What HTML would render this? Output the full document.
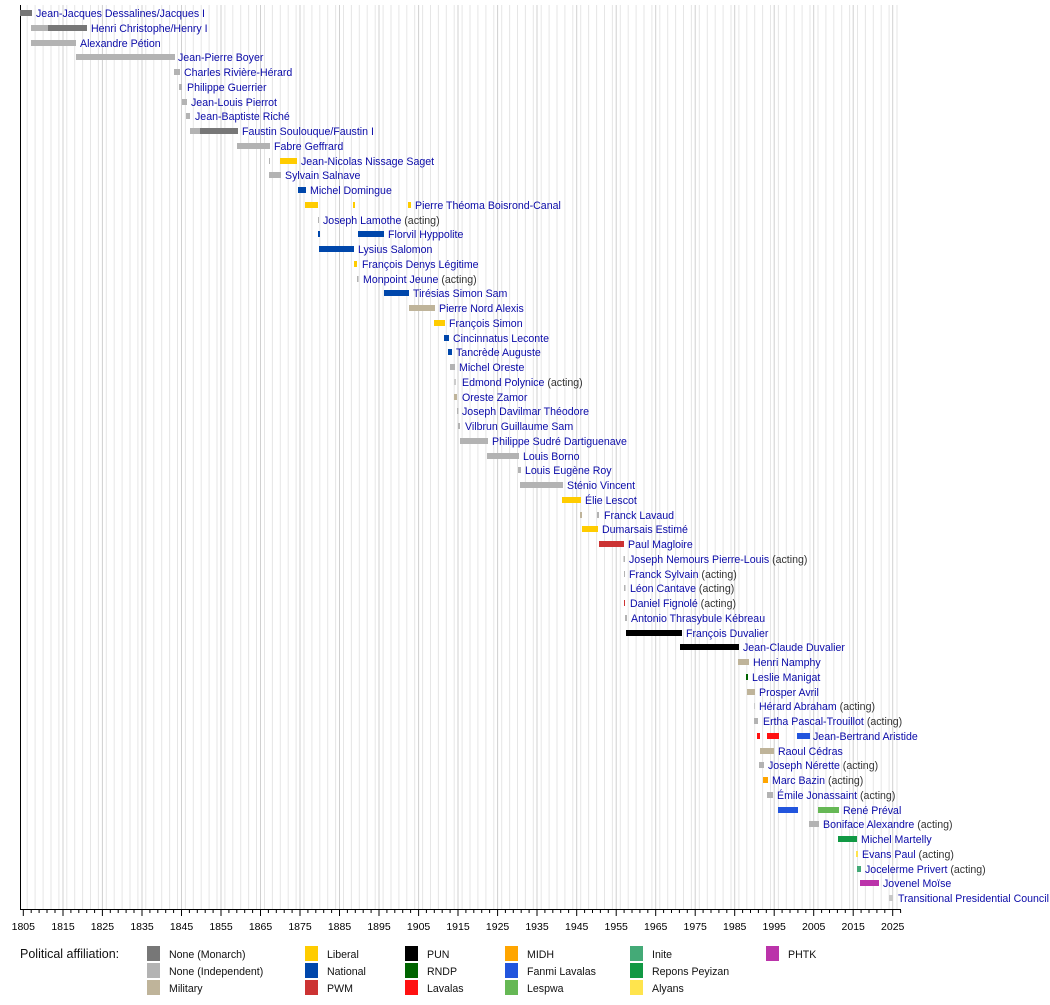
<!DOCTYPE html>
<html><head><meta charset="utf-8"><style>
body{margin:0;background:#fff;}
svg text{font-family:"Liberation Sans",Arial,sans-serif;}
.l{font-size:10.6px;fill:#0a0aa8;}
.a{fill:#333;}
.g{font-size:10.6px;fill:#111;}
</style></head><body>
<svg width="1050" height="1000" xmlns="http://www.w3.org/2000/svg">
<g id="grid" stroke="#e6e6e6" stroke-width="1">
<line x1="27.2" y1="5" x2="27.2" y2="910"/><line x1="35.1" y1="5" x2="35.1" y2="910"/><line x1="43.1" y1="5" x2="43.1" y2="910"/><line x1="51" y1="5" x2="51" y2="910"/><line x1="58.9" y1="5" x2="58.9" y2="910"/>
<line x1="66.8" y1="5" x2="66.8" y2="910"/><line x1="74.7" y1="5" x2="74.7" y2="910"/><line x1="82.6" y1="5" x2="82.6" y2="910"/><line x1="90.5" y1="5" x2="90.5" y2="910"/><line x1="98.4" y1="5" x2="98.4" y2="910"/>
<line x1="106.3" y1="5" x2="106.3" y2="910"/><line x1="114.2" y1="5" x2="114.2" y2="910"/><line x1="122.1" y1="5" x2="122.1" y2="910"/><line x1="130" y1="5" x2="130" y2="910"/><line x1="137.9" y1="5" x2="137.9" y2="910"/>
<line x1="145.8" y1="5" x2="145.8" y2="910"/><line x1="153.8" y1="5" x2="153.8" y2="910"/><line x1="161.7" y1="5" x2="161.7" y2="910"/><line x1="169.6" y1="5" x2="169.6" y2="910"/><line x1="177.5" y1="5" x2="177.5" y2="910"/>
<line x1="185.4" y1="5" x2="185.4" y2="910"/><line x1="193.3" y1="5" x2="193.3" y2="910"/><line x1="201.2" y1="5" x2="201.2" y2="910"/><line x1="209.1" y1="5" x2="209.1" y2="910"/><line x1="217" y1="5" x2="217" y2="910"/>
<line x1="224.9" y1="5" x2="224.9" y2="910"/><line x1="232.8" y1="5" x2="232.8" y2="910"/><line x1="240.7" y1="5" x2="240.7" y2="910"/><line x1="248.6" y1="5" x2="248.6" y2="910"/><line x1="256.5" y1="5" x2="256.5" y2="910"/>
<line x1="264.5" y1="5" x2="264.5" y2="910"/><line x1="272.4" y1="5" x2="272.4" y2="910"/><line x1="280.3" y1="5" x2="280.3" y2="910"/><line x1="288.2" y1="5" x2="288.2" y2="910"/><line x1="296.1" y1="5" x2="296.1" y2="910"/>
<line x1="304" y1="5" x2="304" y2="910"/><line x1="311.9" y1="5" x2="311.9" y2="910"/><line x1="319.8" y1="5" x2="319.8" y2="910"/><line x1="327.7" y1="5" x2="327.7" y2="910"/><line x1="335.6" y1="5" x2="335.6" y2="910"/>
<line x1="343.5" y1="5" x2="343.5" y2="910"/><line x1="351.4" y1="5" x2="351.4" y2="910"/><line x1="359.3" y1="5" x2="359.3" y2="910"/><line x1="367.2" y1="5" x2="367.2" y2="910"/><line x1="375.2" y1="5" x2="375.2" y2="910"/>
<line x1="383.1" y1="5" x2="383.1" y2="910"/><line x1="391" y1="5" x2="391" y2="910"/><line x1="398.9" y1="5" x2="398.9" y2="910"/><line x1="406.8" y1="5" x2="406.8" y2="910"/><line x1="414.7" y1="5" x2="414.7" y2="910"/>
<line x1="422.6" y1="5" x2="422.6" y2="910"/><line x1="430.5" y1="5" x2="430.5" y2="910"/><line x1="438.4" y1="5" x2="438.4" y2="910"/><line x1="446.3" y1="5" x2="446.3" y2="910"/><line x1="454.2" y1="5" x2="454.2" y2="910"/>
<line x1="462.1" y1="5" x2="462.1" y2="910"/><line x1="470" y1="5" x2="470" y2="910"/><line x1="477.9" y1="5" x2="477.9" y2="910"/><line x1="485.9" y1="5" x2="485.9" y2="910"/><line x1="493.8" y1="5" x2="493.8" y2="910"/>
<line x1="501.7" y1="5" x2="501.7" y2="910"/><line x1="509.6" y1="5" x2="509.6" y2="910"/><line x1="517.5" y1="5" x2="517.5" y2="910"/><line x1="525.4" y1="5" x2="525.4" y2="910"/><line x1="533.3" y1="5" x2="533.3" y2="910"/>
<line x1="541.2" y1="5" x2="541.2" y2="910"/><line x1="549.1" y1="5" x2="549.1" y2="910"/><line x1="557" y1="5" x2="557" y2="910"/><line x1="564.9" y1="5" x2="564.9" y2="910"/><line x1="572.8" y1="5" x2="572.8" y2="910"/>
<line x1="580.7" y1="5" x2="580.7" y2="910"/><line x1="588.6" y1="5" x2="588.6" y2="910"/><line x1="596.6" y1="5" x2="596.6" y2="910"/><line x1="604.5" y1="5" x2="604.5" y2="910"/><line x1="612.4" y1="5" x2="612.4" y2="910"/>
<line x1="620.3" y1="5" x2="620.3" y2="910"/><line x1="628.2" y1="5" x2="628.2" y2="910"/><line x1="636.1" y1="5" x2="636.1" y2="910"/><line x1="644" y1="5" x2="644" y2="910"/><line x1="651.9" y1="5" x2="651.9" y2="910"/>
<line x1="659.8" y1="5" x2="659.8" y2="910"/><line x1="667.7" y1="5" x2="667.7" y2="910"/><line x1="675.6" y1="5" x2="675.6" y2="910"/><line x1="683.5" y1="5" x2="683.5" y2="910"/><line x1="691.4" y1="5" x2="691.4" y2="910"/>
<line x1="699.3" y1="5" x2="699.3" y2="910"/><line x1="707.3" y1="5" x2="707.3" y2="910"/><line x1="715.2" y1="5" x2="715.2" y2="910"/><line x1="723.1" y1="5" x2="723.1" y2="910"/><line x1="731" y1="5" x2="731" y2="910"/>
<line x1="738.9" y1="5" x2="738.9" y2="910"/><line x1="746.8" y1="5" x2="746.8" y2="910"/><line x1="754.7" y1="5" x2="754.7" y2="910"/><line x1="762.6" y1="5" x2="762.6" y2="910"/><line x1="770.5" y1="5" x2="770.5" y2="910"/>
<line x1="778.4" y1="5" x2="778.4" y2="910"/><line x1="786.3" y1="5" x2="786.3" y2="910"/><line x1="794.2" y1="5" x2="794.2" y2="910"/><line x1="802.1" y1="5" x2="802.1" y2="910"/><line x1="810" y1="5" x2="810" y2="910"/>
<line x1="818" y1="5" x2="818" y2="910"/><line x1="825.9" y1="5" x2="825.9" y2="910"/><line x1="833.8" y1="5" x2="833.8" y2="910"/><line x1="841.7" y1="5" x2="841.7" y2="910"/><line x1="849.6" y1="5" x2="849.6" y2="910"/>
<line x1="857.5" y1="5" x2="857.5" y2="910"/><line x1="865.4" y1="5" x2="865.4" y2="910"/><line x1="873.3" y1="5" x2="873.3" y2="910"/><line x1="881.2" y1="5" x2="881.2" y2="910"/><line x1="889.1" y1="5" x2="889.1" y2="910"/><line x1="897" y1="5" x2="897" y2="910"/>
</g>
<g stroke="#d0d0d0" stroke-width="1">
<line x1="63" y1="5" x2="63" y2="910"/><line x1="102.4" y1="5" x2="102.4" y2="910"/><line x1="142" y1="5" x2="142" y2="910"/><line x1="181.5" y1="5" x2="181.5" y2="910"/><line x1="221" y1="5" x2="221" y2="910"/><line x1="260.5" y1="5" x2="260.5" y2="910"/><line x1="300" y1="5" x2="300" y2="910"/><line x1="339.5" y1="5" x2="339.5" y2="910"/><line x1="379" y1="5" x2="379" y2="910"/><line x1="418.6" y1="5" x2="418.6" y2="910"/><line x1="458" y1="5" x2="458" y2="910"/><line x1="497.6" y1="5" x2="497.6" y2="910"/><line x1="537" y1="5" x2="537" y2="910"/><line x1="576.7" y1="5" x2="576.7" y2="910"/><line x1="616.2" y1="5" x2="616.2" y2="910"/><line x1="655.7" y1="5" x2="655.7" y2="910"/><line x1="695.2" y1="5" x2="695.2" y2="910"/><line x1="734.7" y1="5" x2="734.7" y2="910"/><line x1="774.2" y1="5" x2="774.2" y2="910"/><line x1="813.7" y1="5" x2="813.7" y2="910"/><line x1="853.2" y1="5" x2="853.2" y2="910"/><line x1="892.7" y1="5" x2="892.7" y2="910"/>
</g>
<!-- axes -->
<line x1="20.5" y1="5" x2="20.5" y2="910" stroke="#000"/>
<line x1="20.5" y1="909.5" x2="901" y2="909.5" stroke="#000"/>
<g stroke="#000">
<path d="M23.3 910v6M63 910v6M102.4 910v6M142 910v6M181.5 910v6M221 910v6M260.5 910v6M300 910v6M339.5 910v6M379 910v6M418.6 910v6M458 910v6M497.6 910v6M537 910v6M576.7 910v6M616.2 910v6M655.7 910v6M695.2 910v6M734.7 910v6M774.2 910v6M813.7 910v6M853.2 910v6M892.7 910v6"/>
<path d="M31.2 910v3M39.1 910v3M47 910v3M55 910v3M70.9 910v3M78.8 910v3M86.7 910v3M94.6 910v3M110.3 910v3M118.2 910v3M126.1 910v3M134 910v3M149.9 910v3M157.8 910v3M165.7 910v3M173.6 910v3M189.4 910v3M197.3 910v3M205.2 910v3M213.1 910v3M228.9 910v3M236.8 910v3M244.7 910v3M252.6 910v3M268.4 910v3M276.3 910v3M284.2 910v3M292.1 910v3M307.9 910v3M315.8 910v3M323.7 910v3M331.6 910v3M347.4 910v3M355.3 910v3M363.2 910v3M371.1 910v3M386.9 910v3M394.8 910v3M402.7 910v3M410.6 910v3M426.4 910v3M434.3 910v3M442.2 910v3M450.1 910v3M465.9 910v3M473.8 910v3M481.7 910v3M489.6 910v3M505.4 910v3M513.3 910v3M521.2 910v3M529.1 910v3M544.9 910v3M552.8 910v3M560.7 910v3M568.6 910v3M584.6 910v3M592.5 910v3M600.4 910v3M608.3 910v3M624.1 910v3M632 910v3M639.9 910v3M647.8 910v3M663.6 910v3M671.5 910v3M679.4 910v3M687.3 910v3M703.1 910v3M711 910v3M718.9 910v3M726.8 910v3M742.6 910v3M750.5 910v3M758.4 910v3M766.3 910v3M782.1 910v3M790 910v3M797.9 910v3M805.8 910v3M821.6 910v3M829.5 910v3M837.4 910v3M845.3 910v3M861.1 910v3M869 910v3M876.9 910v3M884.8 910v3M900.6 910v3"/>
</g>
<g font-size="10.5" text-anchor="middle" fill="#000" style="font-family:'Liberation Sans',sans-serif">
<text x="23.3" y="930">1805</text><text x="63" y="930">1815</text><text x="102.4" y="930">1825</text><text x="142" y="930">1835</text><text x="181.5" y="930">1845</text><text x="221" y="930">1855</text><text x="260.5" y="930">1865</text><text x="300" y="930">1875</text><text x="339.5" y="930">1885</text><text x="379" y="930">1895</text><text x="418.6" y="930">1905</text><text x="458" y="930">1915</text><text x="497.6" y="930">1925</text><text x="537" y="930">1935</text><text x="576.7" y="930">1945</text><text x="616.2" y="930">1955</text><text x="655.7" y="930">1965</text><text x="695.2" y="930">1975</text><text x="734.7" y="930">1985</text><text x="774.2" y="930">1995</text><text x="813.7" y="930">2005</text><text x="853.2" y="930">2015</text><text x="892.7" y="930">2025</text>
</g>
<!-- bars -->
<g>
<rect x="20" y="10" width="12" height="6" fill="#777"/>
<rect x="31" y="25" width="17" height="6" fill="#b3b3b3"/><rect x="48" y="25" width="39" height="6" fill="#777"/>
<rect x="31" y="40" width="45" height="6" fill="#b3b3b3"/>
<rect x="76" y="54" width="99" height="6" fill="#b3b3b3"/>
<rect x="174" y="69" width="6" height="6" fill="#b3b3b3"/>
<rect x="179" y="84" width="3" height="6" fill="#b3b3b3"/>
<rect x="182" y="99" width="5" height="6" fill="#b3b3b3"/>
<rect x="186" y="113" width="4" height="6" fill="#b3b3b3"/>
<rect x="190" y="128" width="10" height="6" fill="#b3b3b3"/><rect x="200" y="128" width="38" height="6" fill="#777"/>
<rect x="237" y="143" width="33" height="6" fill="#b3b3b3"/>
<rect x="269" y="158" width="1" height="6" fill="#b3b3b3"/><rect x="280" y="158" width="17" height="6" fill="#ffcc00"/>
<rect x="269" y="172" width="12" height="6" fill="#b3b3b3"/>
<rect x="298" y="187" width="8" height="6" fill="#0047ab"/>
<rect x="305" y="202" width="13" height="6" fill="#ffcc00"/><rect x="353" y="202" width="2" height="6" fill="#ffcc00"/><rect x="408" y="202" width="3" height="6" fill="#ffcc00"/>
<rect x="318" y="217" width="1" height="6" fill="#b3b3b3"/>
<rect x="318" y="231" width="2" height="6" fill="#0047ab"/><rect x="358" y="231" width="26" height="6" fill="#0047ab"/>
<rect x="319" y="246" width="35" height="6" fill="#0047ab"/>
<rect x="354" y="261" width="3" height="6" fill="#ffcc00"/>
<rect x="357" y="276" width="1.5" height="6" fill="#b3b3b3"/>
<rect x="384" y="290" width="25" height="6" fill="#0047ab"/>
<rect x="409" y="305" width="26" height="6" fill="#bfb49a"/>
<rect x="434" y="320" width="11" height="6" fill="#ffcc00"/>
<rect x="444" y="335" width="5" height="6" fill="#0047ab"/>
<rect x="448" y="349" width="4" height="6" fill="#0047ab"/>
<rect x="450" y="364" width="5" height="6" fill="#b3b3b3"/>
<rect x="454" y="379" width="2" height="6" fill="#ccc"/>
<rect x="454" y="394" width="3" height="6" fill="#bfb49a"/>
<rect x="457" y="408" width="1.5" height="6" fill="#b3b3b3"/>
<rect x="458" y="423" width="2" height="6" fill="#b3b3b3"/>
<rect x="460" y="438" width="28" height="6" fill="#b3b3b3"/>
<rect x="487" y="453" width="32" height="6" fill="#b3b3b3"/>
<rect x="518" y="467" width="3" height="6" fill="#b3b3b3"/>
<rect x="520" y="482" width="43" height="6" fill="#b3b3b3"/>
<rect x="562" y="497" width="19" height="6" fill="#ffcc00"/>
<rect x="580" y="512" width="2" height="6" fill="#bfb49a"/><rect x="597" y="512" width="2" height="6" fill="#b3b3b3"/>
<rect x="582" y="526" width="16" height="6" fill="#ffcc00"/>
<rect x="599" y="541" width="25" height="6" fill="#cc3333"/>
<rect x="623.5" y="556" width="1.5" height="6" fill="#b3b3b3"/>
<rect x="624" y="571" width="1" height="6" fill="#b3b3b3"/>
<rect x="624" y="585" width="1.5" height="6" fill="#b3b3b3"/>
<rect x="624" y="600" width="1" height="6" fill="#cc3333"/>
<rect x="625" y="615" width="2" height="6" fill="#b3b3b3"/>
<rect x="626" y="630" width="56" height="6" fill="#000"/>
<rect x="680" y="644" width="59" height="6" fill="#000"/>
<rect x="738" y="659" width="11" height="6" fill="#bfb49a"/>
<rect x="746" y="674" width="2" height="6" fill="#006400"/>
<rect x="747" y="689" width="8" height="6" fill="#bfb49a"/>
<rect x="754" y="703" width="1" height="6" fill="#ccc"/>
<rect x="754" y="718" width="4" height="6" fill="#b3b3b3"/>
<rect x="757" y="733" width="3" height="6" fill="#ff1111"/><rect x="767" y="733" width="12" height="6" fill="#ff1111"/><rect x="797" y="733" width="13" height="6" fill="#2255dd"/>
<rect x="760" y="748" width="14" height="6" fill="#bfb49a"/>
<rect x="759" y="762" width="5" height="6" fill="#b3b3b3"/>
<rect x="763" y="777" width="5" height="6" fill="#ffa500"/>
<rect x="767" y="792" width="6" height="6" fill="#b3b3b3"/>
<rect x="778" y="807" width="20" height="6" fill="#2255dd"/><rect x="818" y="807" width="21" height="6" fill="#66b855"/>
<rect x="809" y="821" width="10" height="6" fill="#b3b3b3"/>
<rect x="838" y="836" width="19" height="6" fill="#119944"/>
<rect x="856" y="851" width="2" height="6" fill="#ffe44d"/>
<rect x="857" y="866" width="4" height="6" fill="#44aa77"/>
<rect x="860" y="880" width="19" height="6" fill="#bb33aa"/>
<rect x="889" y="895" width="4" height="6" fill="#c8c8c8"/>
</g>
<!-- labels -->
<g class="l">
<text x="36" y="17">Jean-Jacques Dessalines/Jacques I</text>
<text x="91" y="32">Henri Christophe/Henry I</text>
<text x="80" y="47">Alexandre Pétion</text>
<text x="178" y="61">Jean-Pierre Boyer</text>
<text x="184" y="76">Charles Rivière-Hérard</text>
<text x="187" y="91">Philippe Guerrier</text>
<text x="191" y="106">Jean-Louis Pierrot</text>
<text x="195" y="120">Jean-Baptiste Riché</text>
<text x="242" y="135">Faustin Soulouque/Faustin I</text>
<text x="274" y="150">Fabre Geffrard</text>
<text x="301" y="165">Jean-Nicolas Nissage Saget</text>
<text x="285" y="179">Sylvain Salnave</text>
<text x="310" y="194">Michel Domingue</text>
<text x="415" y="209">Pierre Théoma Boisrond-Canal</text>
<text x="323" y="224">Joseph Lamothe <tspan class="a">(acting)</tspan></text>
<text x="388" y="238">Florvil Hyppolite</text>
<text x="358" y="253">Lysius Salomon</text>
<text x="362" y="268">François Denys Légitime</text>
<text x="363" y="283">Monpoint Jeune <tspan class="a">(acting)</tspan></text>
<text x="413" y="297">Tirésias Simon Sam</text>
<text x="439" y="312">Pierre Nord Alexis</text>
<text x="449" y="327">François Simon</text>
<text x="453" y="342">Cincinnatus Leconte</text>
<text x="456" y="356">Tancrède Auguste</text>
<text x="459" y="371">Michel Oreste</text>
<text x="462" y="386">Edmond Polynice <tspan class="a">(acting)</tspan></text>
<text x="462" y="401">Oreste Zamor</text>
<text x="462" y="415">Joseph Davilmar Théodore</text>
<text x="465" y="430">Vilbrun Guillaume Sam</text>
<text x="492" y="445">Philippe Sudré Dartiguenave</text>
<text x="523" y="460">Louis Borno</text>
<text x="525" y="474">Louis Eugène Roy</text>
<text x="567" y="489">Sténio Vincent</text>
<text x="585" y="504">Élie Lescot</text>
<text x="604" y="519">Franck Lavaud</text>
<text x="602" y="533">Dumarsais Estimé</text>
<text x="628" y="548">Paul Magloire</text>
<text x="629" y="563">Joseph Nemours Pierre-Louis <tspan class="a">(acting)</tspan></text>
<text x="629" y="578">Franck Sylvain <tspan class="a">(acting)</tspan></text>
<text x="630" y="592">Léon Cantave <tspan class="a">(acting)</tspan></text>
<text x="630" y="607">Daniel Fignolé <tspan class="a">(acting)</tspan></text>
<text x="631" y="622">Antonio Thrasybule Kébreau</text>
<text x="686" y="637">François Duvalier</text>
<text x="743" y="651">Jean-Claude Duvalier</text>
<text x="753" y="666">Henri Namphy</text>
<text x="752" y="681">Leslie Manigat</text>
<text x="759" y="696">Prosper Avril</text>
<text x="759" y="710">Hérard Abraham <tspan class="a">(acting)</tspan></text>
<text x="763" y="725">Ertha Pascal-Trouillot <tspan class="a">(acting)</tspan></text>
<text x="813" y="740">Jean-Bertrand Aristide</text>
<text x="778" y="755">Raoul Cédras</text>
<text x="768" y="769">Joseph Nérette <tspan class="a">(acting)</tspan></text>
<text x="772" y="784">Marc Bazin <tspan class="a">(acting)</tspan></text>
<text x="777" y="799">Émile Jonassaint <tspan class="a">(acting)</tspan></text>
<text x="843" y="814">René Préval</text>
<text x="823" y="828">Boniface Alexandre <tspan class="a">(acting)</tspan></text>
<text x="861" y="843">Michel Martelly</text>
<text x="862" y="858">Evans Paul <tspan class="a">(acting)</tspan></text>
<text x="865" y="873">Jocelerme Privert <tspan class="a">(acting)</tspan></text>
<text x="883" y="887">Jovenel Moïse</text>
<text x="898" y="902">Transitional Presidential Council</text>
</g>
<!-- legend -->
<text x="20" y="958" font-size="12.5" fill="#111">Political affiliation:</text>
<g>
<rect x="147" y="946" width="13" height="15" fill="#777"/>
<rect x="147" y="963" width="13" height="15" fill="#b3b3b3"/>
<rect x="147" y="980" width="13" height="15" fill="#bfb49a"/>
<rect x="305" y="946" width="13" height="15" fill="#ffcc00"/>
<rect x="305" y="963" width="13" height="15" fill="#0047ab"/>
<rect x="305" y="980" width="13" height="15" fill="#cc3333"/>
<rect x="405" y="946" width="13" height="15" fill="#000"/>
<rect x="405" y="963" width="13" height="15" fill="#006400"/>
<rect x="405" y="980" width="13" height="15" fill="#ff1111"/>
<rect x="505" y="946" width="13" height="15" fill="#ffa500"/>
<rect x="505" y="963" width="13" height="15" fill="#2255dd"/>
<rect x="505" y="980" width="13" height="15" fill="#66b855"/>
<rect x="630" y="946" width="13" height="15" fill="#44aa77"/>
<rect x="630" y="963" width="13" height="15" fill="#119944"/>
<rect x="630" y="980" width="13" height="15" fill="#ffe44d"/>
<rect x="766" y="946" width="13" height="15" fill="#bb33aa"/>
</g>
<g class="g">
<text x="169" y="958">None (Monarch)</text>
<text x="169" y="975">None (Independent)</text>
<text x="169" y="992">Military</text>
<text x="327" y="958">Liberal</text>
<text x="327" y="975">National</text>
<text x="327" y="992">PWM</text>
<text x="427" y="958">PUN</text>
<text x="427" y="975">RNDP</text>
<text x="427" y="992">Lavalas</text>
<text x="527" y="958">MIDH</text>
<text x="527" y="975">Fanmi Lavalas</text>
<text x="527" y="992">Lespwa</text>
<text x="652" y="958">Inite</text>
<text x="652" y="975">Repons Peyizan</text>
<text x="652" y="992">Alyans</text>
<text x="788" y="958">PHTK</text>
</g>
</svg>
</body></html>
